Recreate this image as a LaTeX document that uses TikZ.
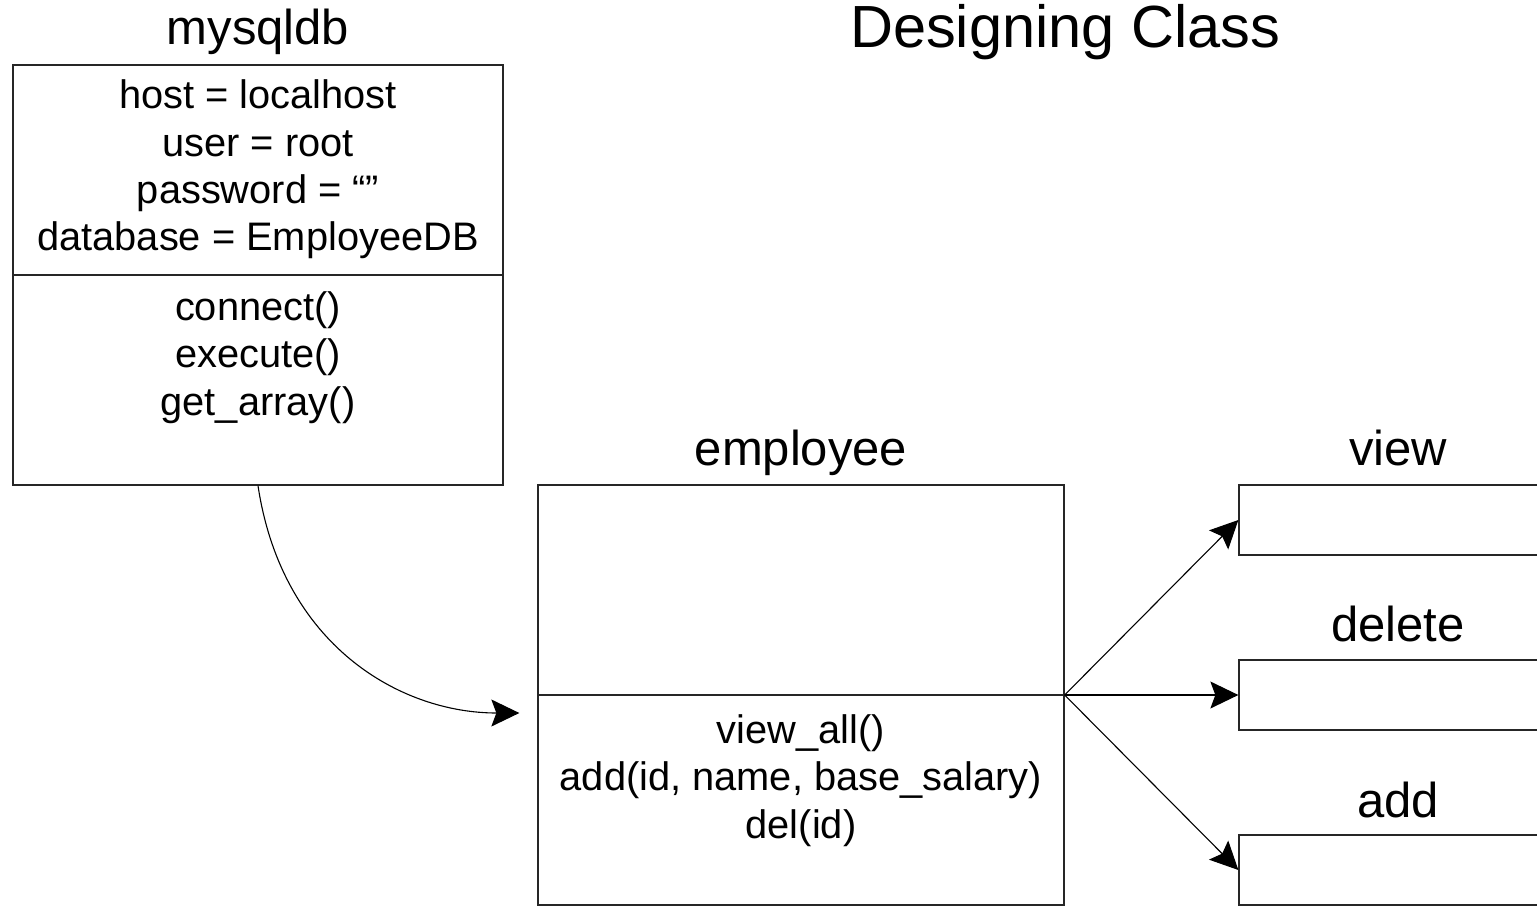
\documentclass[tikz,border=0pt]{standalone}
\usepackage{fontspec}
\setmainfont{Liberation Sans}
\usetikzlibrary{arrows.meta}
\begin{document}
\begin{tikzpicture}[x=1pt,y=-1pt,
  box/.style={draw=black!85, line width=1.3pt, rectangle, inner sep=0pt},
  divider/.style={draw=black!85, line width=1.3pt},
  body/.style={anchor=base, inner sep=0pt, font=\fontsize{39.8}{47}\selectfont},
  head/.style={anchor=base, inner sep=0pt, font=\fontsize{49}{58}\selectfont},
  titletext/.style={anchor=base, inner sep=0pt, font=\fontsize{59.5}{70}\selectfont},
  link/.style={line width=1.1pt, -{Stealth[length=28pt,width=27pt,inset=5pt]}}]

\useasboundingbox (0,0) rectangle (1537,907);
\clip (0,0) rectangle (1537,907);

% title
\node[titletext] (title) at (1065,48) {Designing Class};

% class mysqldb
\node[head] (mysqlname) at (258,45) {mysqldb};
\node[box, minimum width=490pt, minimum height=420pt] (mysql) at (258,275) {};
\draw[divider] (mysql.west) -- (mysql.east);
\node[body] (attr1) at (258,108) {host = localhost};
\node[body] (attr2) at (258,156) {user = root};
\node[body] (attr3) at (258,203) {password = “”};
\node[body] (attr4) at (258,250) {database = EmployeeDB};
\node[body] (meth1) at (258,320) {connect()};
\node[body] (meth2) at (258,367) {execute()};
\node[body] (meth3) at (258,415) {get\_array()};

% class employee
\node[head] (empname) at (801,465) {employee};
\node[box, minimum width=526pt, minimum height=420pt] (emp) at (801,695) {};
\draw[divider] (emp.west) -- (emp.east);
\node[body] (emeth1) at (801,743) {view\_all()};
\node[body] (emeth2) at (801,790) {add(id, name, base\_salary)};
\node[body] (emeth3) at (801,838) {del(id)};

% action classes
\node[head] (viewname) at (1398,465) {view};
\node[box, minimum width=318pt, minimum height=70pt] (view) at (1398,520) {};
\node[head] (delname) at (1398,641) {delete};
\node[box, minimum width=318pt, minimum height=70pt] (delete) at (1398,695) {};
\node[head] (addname) at (1398,817) {add};
\node[box, minimum width=318pt, minimum height=70pt] (add) at (1398,870) {};

% connectors
\draw[link] (mysql.south) .. controls (282,645) and (400,713) .. ([xshift=-18pt,yshift=-18pt]emp.west);
\draw[link] (emp.east) -- (view.west);
\draw[link] (emp.east) -- (delete.west);
\draw[link] (emp.east) -- (add.west);
\end{tikzpicture}
\end{document}
